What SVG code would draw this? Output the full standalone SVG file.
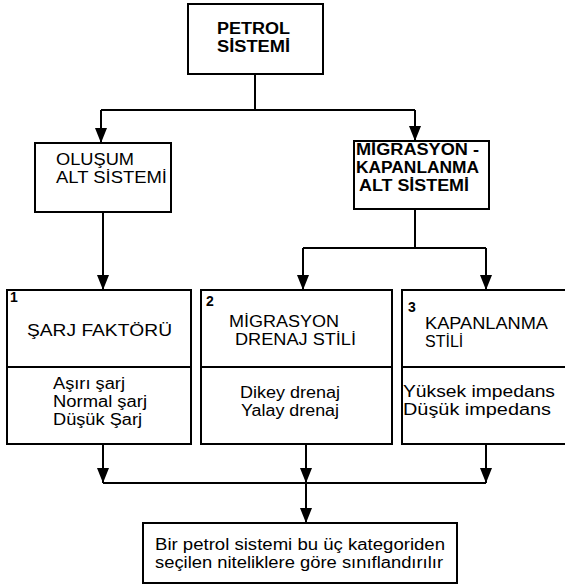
<svg xmlns="http://www.w3.org/2000/svg" width="565" height="586" viewBox="0 0 565 586">
<defs>
<style>
.box{fill:#fff;stroke:#000;stroke-width:2}
.ln{fill:none;stroke:#000;stroke-width:2}
.t{font-family:"Liberation Sans",Arial,sans-serif;font-size:16px;fill:#000}
.b{font-weight:bold}
.n{font-family:"Liberation Sans",Arial,sans-serif;font-size:14px;font-weight:bold;fill:#000}
</style>
<marker id="ah" viewBox="0 0 15 12" refX="15" refY="6" markerWidth="15" markerHeight="12" markerUnits="userSpaceOnUse" orient="auto">
<path d="M0,0 L15,6 L0,12 Z" fill="#000"/>
</marker>
</defs>
<rect width="565" height="586" fill="#fff"/>
<g id="connectors">
<path class="ln" d="M255,74 V110"/>
<path class="ln" d="M101,110 H415"/>
<path class="ln" d="M101,110 V143" marker-end="url(#ah)"/>
<path class="ln" d="M415,110 V141" marker-end="url(#ah)"/>
<path class="ln" d="M103,212 V290" marker-end="url(#ah)"/>
<path class="ln" d="M415,209 V248"/>
<path class="ln" d="M303,248 H486"/>
<path class="ln" d="M303,248 V290" marker-end="url(#ah)"/>
<path class="ln" d="M486,248 V290" marker-end="url(#ah)"/>
<path class="ln" d="M103,444 V483" marker-end="url(#ah)"/>
<path class="ln" d="M306,444 V483" marker-end="url(#ah)"/>
<path class="ln" d="M486,444 V483" marker-end="url(#ah)"/>
<path class="ln" d="M103,483 H486"/>
<path class="ln" d="M306,483 V523" marker-end="url(#ah)"/>
</g>
<g id="petrol-sistemi">
<rect class="box" x="188" y="4" width="135" height="70"/>
<text class="t b" x="217" y="34" textLength="73" lengthAdjust="spacingAndGlyphs">PETROL</text>
<text class="t b" x="217" y="52" textLength="73" lengthAdjust="spacingAndGlyphs">SİSTEMİ</text>
</g>
<g id="olusum">
<rect class="box" x="35" y="143" width="136" height="69"/>
<text class="t" x="56" y="165" textLength="78" lengthAdjust="spacingAndGlyphs">OLUŞUM</text>
<text class="t" x="56" y="183" textLength="111" lengthAdjust="spacingAndGlyphs">ALT SİSTEMİ</text>
</g>
<g id="migrasyon-kapanlanma">
<rect class="box" x="354" y="141" width="135" height="68"/>
<text class="t b" x="356" y="155" textLength="123" lengthAdjust="spacingAndGlyphs">MİGRASYON -</text>
<text class="t b" x="356" y="173" textLength="123" lengthAdjust="spacingAndGlyphs">KAPANLANMA</text>
<text class="t b" x="359" y="191" textLength="110" lengthAdjust="spacingAndGlyphs">ALT SİSTEMİ</text>
</g>
<g id="sarj-faktoru">
<rect class="box" x="7" y="290" width="184" height="154"/>
<path class="ln" d="M7,367 H191"/>
<text class="n" x="10" y="302">1</text>
<text class="t" x="27" y="336" textLength="145" lengthAdjust="spacingAndGlyphs">ŞARJ  FAKTÖRÜ</text>
<text class="t" x="53" y="389" textLength="72" lengthAdjust="spacingAndGlyphs">Aşırı şarj</text>
<text class="t" x="53" y="407" textLength="94" lengthAdjust="spacingAndGlyphs">Normal şarj</text>
<text class="t" x="53" y="425" textLength="89" lengthAdjust="spacingAndGlyphs">Düşük Şarj</text>
</g>
<g id="migrasyon-drenaj">
<rect class="box" x="201" y="290" width="191" height="154"/>
<path class="ln" d="M201,367 H392"/>
<text class="n" x="206" y="306">2</text>
<text class="t" x="229" y="327" textLength="110" lengthAdjust="spacingAndGlyphs">MİGRASYON</text>
<text class="t" x="235" y="345" textLength="121" lengthAdjust="spacingAndGlyphs">DRENAJ STİLİ</text>
<text class="t" x="240" y="398" textLength="100" lengthAdjust="spacingAndGlyphs">Dikey drenaj</text>
<text class="t" x="241" y="416" textLength="98" lengthAdjust="spacingAndGlyphs">Yalay drenaj</text>
</g>
<g id="kapanlanma-stili">
<rect class="box" x="402" y="290" width="170" height="154"/>
<path class="ln" d="M402,367 H572"/>
<text class="n" x="408" y="312">3</text>
<text class="t" x="425" y="329" textLength="123" lengthAdjust="spacingAndGlyphs">KAPANLANMA</text>
<text class="t" x="425" y="347">STİLİ</text>
<text class="t" x="403" y="397" textLength="152" lengthAdjust="spacingAndGlyphs">Yüksek impedans</text>
<text class="t" x="403" y="415" textLength="148" lengthAdjust="spacingAndGlyphs">Düşük impedans</text>
</g>
<g id="sonuc">
<rect class="box" x="143" y="523" width="314" height="60"/>
<text class="t" x="155" y="550" textLength="290" lengthAdjust="spacingAndGlyphs">Bir petrol sistemi bu üç kategoriden</text>
<text class="t" x="155" y="568" textLength="288" lengthAdjust="spacingAndGlyphs">seçilen niteliklere göre sınıflandırılır</text>
</g>
</svg>
